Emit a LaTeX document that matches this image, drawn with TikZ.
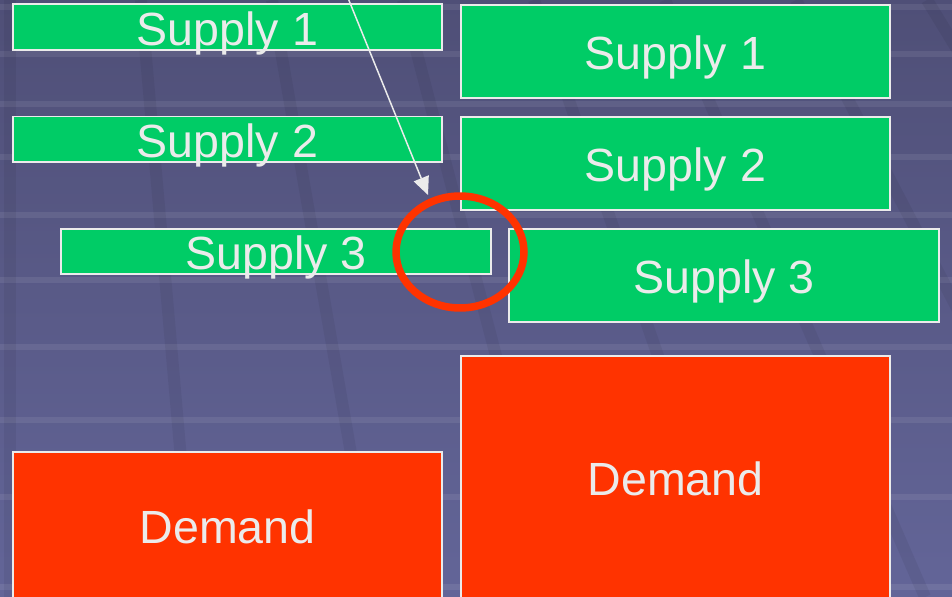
\documentclass[tikz,border=0pt]{standalone}
\usepackage{fontspec}
\setmainfont{Liberation Sans}
\definecolor{GREEN}{HTML}{00CC66}
\definecolor{RED}{HTML}{FF3300}
\definecolor{PALE}{HTML}{EBEBEB}
\definecolor{SKYTOP}{HTML}{4F4F77}
\definecolor{SKYBOT}{HTML}{636598}
\usetikzlibrary{arrows.meta,shapes.geometric,calc}

\begin{document}
\begin{tikzpicture}
[x=0.02cm, y=-0.02cm,
block/.style={rectangle, draw=PALE, line width=0.04cm, inner sep=0pt,
minimum width=8.6cm, font=\fontsize{26.5}{30}\selectfont, text=PALE,
text height=0.72cm, text depth=0pt},
thin block/.style={block, fill=GREEN, minimum height=0.92cm},
tall block/.style={block, fill=GREEN, minimum height=1.88cm},
pointer/.style={draw=PALE, line width=0.03cm, -{Triangle[length=0.36cm,width=0.32cm]}},
band/.style={white, opacity=0.08},
seam/.style={black, opacity=0.055, line width=0.24cm}]

\useasboundingbox (0,0) rectangle (952,597);
\clip (0,0) rectangle (952,597);
% tiled backdrop
\shade[top color=SKYTOP, bottom color=SKYBOT] (0,0) rectangle (952,597);
\foreach \y in {10,57,107,160,218,283,350,423,500,590}
  \fill[band] (0,\y-6) rectangle (952,\y);
\foreach \k in {0,...,7}
  \draw[seam] ({10+131*\k},0) -- ({10+183*\k},597);

% before
\node[thin block] (s1) at (227.5,27.5) {Supply 1};
\node[thin block] (s2) at (227.5,139.5) {Supply 2};
\node[thin block] (s3) at (276,251.5) {Supply 3};
\node[block, fill=RED, minimum height=2.92cm] (d) at (227.5,525) {Demand};
% after
\node[tall block] (S1) at (675.5,51.5) {Supply 1};
\node[tall block] (S2) at (675.5,163.5) {Supply 2};
\node[tall block] (S3) at (724,275.5) {Supply 3};
\node[block, fill=RED, minimum height=4.88cm] (D) at (675.5,478) {Demand};

\coordinate (top) at (348,-2);
\coordinate (tip) at (428,195);
\draw[pointer] (top) -- (tip);
\node[ellipse, draw=RED, line width=0.15cm, inner sep=0pt,
minimum width=2.56cm, minimum height=2.24cm] (ring) at (460,252) {};

\end{tikzpicture}
\end{document}
